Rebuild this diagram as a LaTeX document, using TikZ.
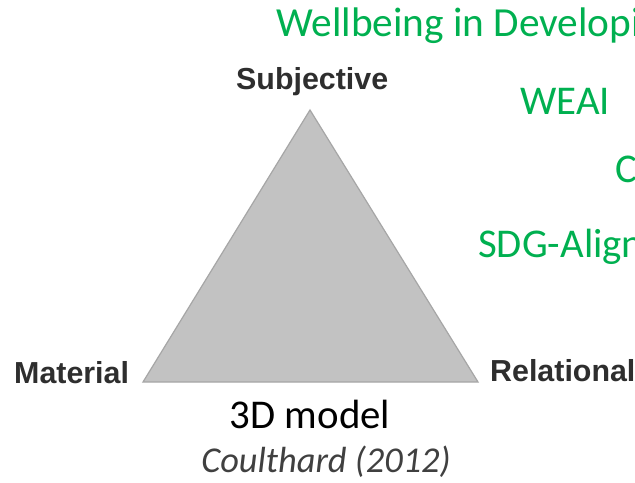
\documentclass[tikz,border=0pt]{standalone}
\usepackage{fontspec}
\setmainfont{Carlito}
\newfontfamily\arialb{Liberation Sans}
\definecolor{offgreen}{HTML}{00B050}
\definecolor{trifill}{HTML}{C2C2C2}
\definecolor{triedge}{HTML}{A6A6A6}
\definecolor{lblgray}{HTML}{2E2E2E}
\definecolor{citegray}{HTML}{404040}
\tikzset{
  vlabel/.style={anchor=base west, inner sep=0pt, text=lblgray, font=\arialb\bfseries\fontsize{30.5}{34}\selectfont},
  gtext/.style={anchor=base west, inner sep=0pt, text=offgreen, font=\fontsize{41}{46}\selectfont},
}
\begin{document}
\begin{tikzpicture}[x=1bp,y=-1bp]
\useasboundingbox (0,0) rectangle (635,483);
\clip (0,0) rectangle (635,483);
\fill[white] (0,0) rectangle (635,483);
% triangle
\coordinate (apex) at (310,110);
\coordinate (bl) at (143,382);
\coordinate (br) at (478,382);
\filldraw[fill=trifill, draw=triedge, line width=1.2bp, line join=miter] (apex) -- (bl) -- (br) -- cycle;
% vertex labels
\node[vlabel] (subj) at (236,90) {Subjective};
\node[vlabel] (mat) at (14,383) {Material};
\node[vlabel] (rel) at (490,381) {Relational};
% captions
\node[anchor=base, inner sep=0pt, font=\fontsize{41}{46}\selectfont] (model) at (310,428) {3D model};
\node[anchor=base, inner sep=0pt, text=citegray, font=\itshape\fontsize{36.5}{40}\selectfont] (cite) at (326,472) {Coulthard (2012)};
% green texts (clipped at right edge)
\node[gtext, font=\fontsize{41.5}{46}\selectfont] (wid) at (276,37) {Wellbeing in Developing Countries};
\node[gtext] (weai) at (520,115) {WEAI};
\node[gtext] (c) at (615,183) {C};
\node[gtext] (sdg) at (478,257) {SDG-Aligned};
\end{tikzpicture}
\end{document}
